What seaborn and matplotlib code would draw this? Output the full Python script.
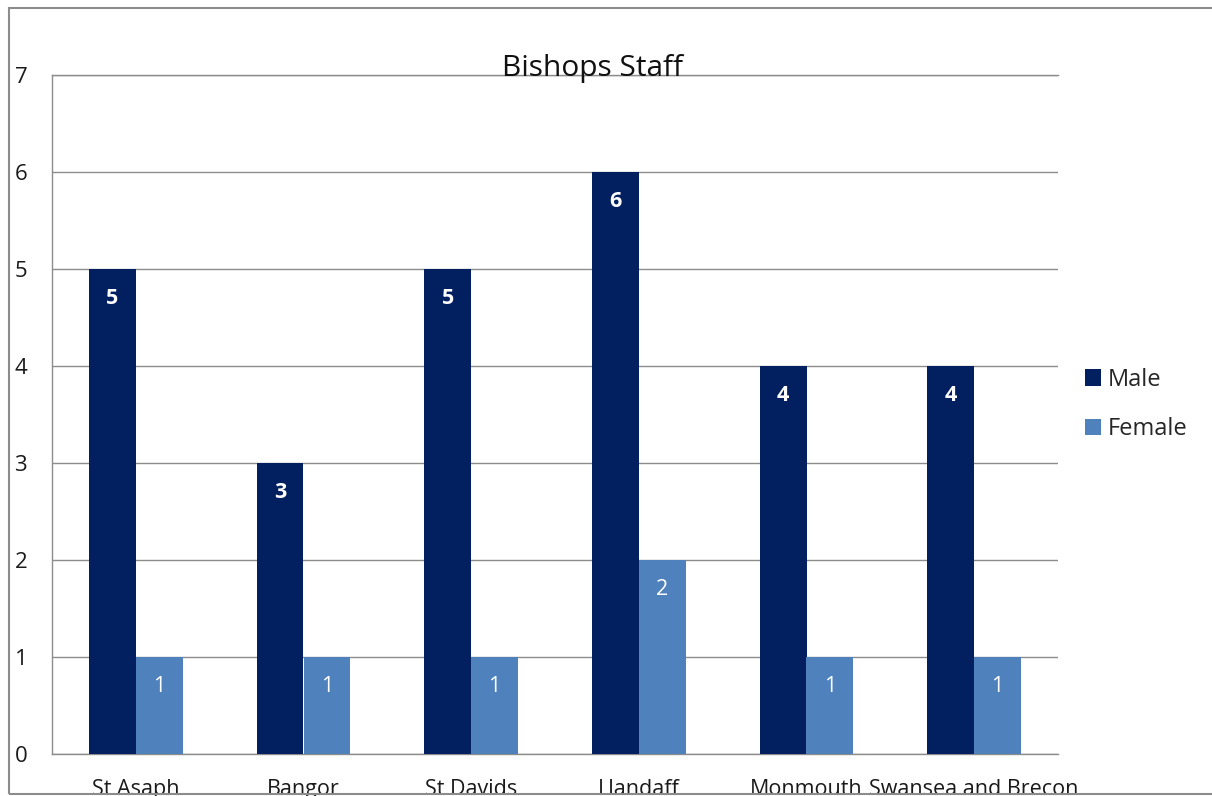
import matplotlib
matplotlib.use("Agg")
import matplotlib.pyplot as plt
import seaborn as sns
import pandas as pd
from matplotlib.patches import Rectangle

dioceses = ["St Asaph", "Bangor", "St Davids", "Llandaff", "Monmouth", "Swansea and Brecon"]
male = [5, 3, 5, 6, 4, 4]
female = [1, 1, 1, 2, 1, 1]
series = ["Male", "Female"]
colors = {"Male": "#022060", "Female": "#4F81BD"}

df = pd.DataFrame({
    "Diocese": dioceses * 2,
    "Staff": male + female,
    "Sex": ["Male"] * len(dioceses) + ["Female"] * len(dioceses),
})

sns.set_theme(style="white")
plt.rcParams["font.family"] = ["Open Sans", "DejaVu Sans"]

fig = plt.figure(figsize=(12.12, 7.96), dpi=100)
ax = fig.add_axes([52 / 1212, 1 - 754 / 796, (1058 - 52) / 1212, (754 - 75) / 796])

sns.barplot(data=df, x="Diocese", y="Staff", hue="Sex", hue_order=series,
            palette=colors, width=0.56, gap=0, saturation=1, ax=ax,
            edgecolor="none", linewidth=0, legend=True, zorder=3)

ax.set_ylim(0, 7)
ax.set_yticks(range(0, 8))
ax.set_xlim(-0.5, len(dioceses) - 0.5)
ax.yaxis.grid(True, color="#8c8c8c", linewidth=1, zorder=0)
ax.set_axisbelow(True)
ax.set_xlabel("")
ax.set_ylabel("")
ax.tick_params(axis="y", length=0, labelsize=16, colors="#1a1a1a")
ax.tick_params(axis="x", length=0, pad=18, labelsize=15.5, colors="#1a1a1a")
for lbl in ax.get_yticklabels():
    lbl.set_horizontalalignment("left")
ax.yaxis.set_tick_params(pad=27)
for side in ["left", "top", "bottom"]:
    ax.spines[side].set_visible(True)
    ax.spines[side].set_color("#8c8c8c")
    ax.spines[side].set_linewidth(1)
ax.spines["right"].set_visible(False)

# value labels just inside each bar top
for container, name in zip(ax.containers, series):
    for rect, val in zip(container.patches, container.datavalues):
        ax.annotate(f"{val:g}", xy=(rect.get_x() + rect.get_width() / 2, val),
                    xytext=(0, -25.5), textcoords="offset points",
                    ha="center", va="baseline", color="white", fontsize=15.5,
                    fontweight="bold" if name == "Male" else "normal", zorder=5)

# legend
handles, labels = ax.get_legend_handles_labels()
ax.legend(handles, labels, loc="center left", bbox_to_anchor=(1.017, 0.515),
          frameon=False, fontsize=17, handlelength=0.7, handleheight=0.7,
          handletextpad=0.3, labelspacing=1.08, borderaxespad=0)

fig.text(593 / 1212, 1 - 76 / 796, "Bishops Staff", ha="center", va="baseline",
         fontsize=21.5, color="#111111")

# outer chart border
fig.patches.append(Rectangle((9 / 1212, 1 - 794 / 796), 1.2, (794 - 8) / 796,
                             transform=fig.transFigure, fill=False,
                             edgecolor="#8c8c8c", linewidth=1.5, zorder=10))

fig.savefig("out.png", dpi=100)
